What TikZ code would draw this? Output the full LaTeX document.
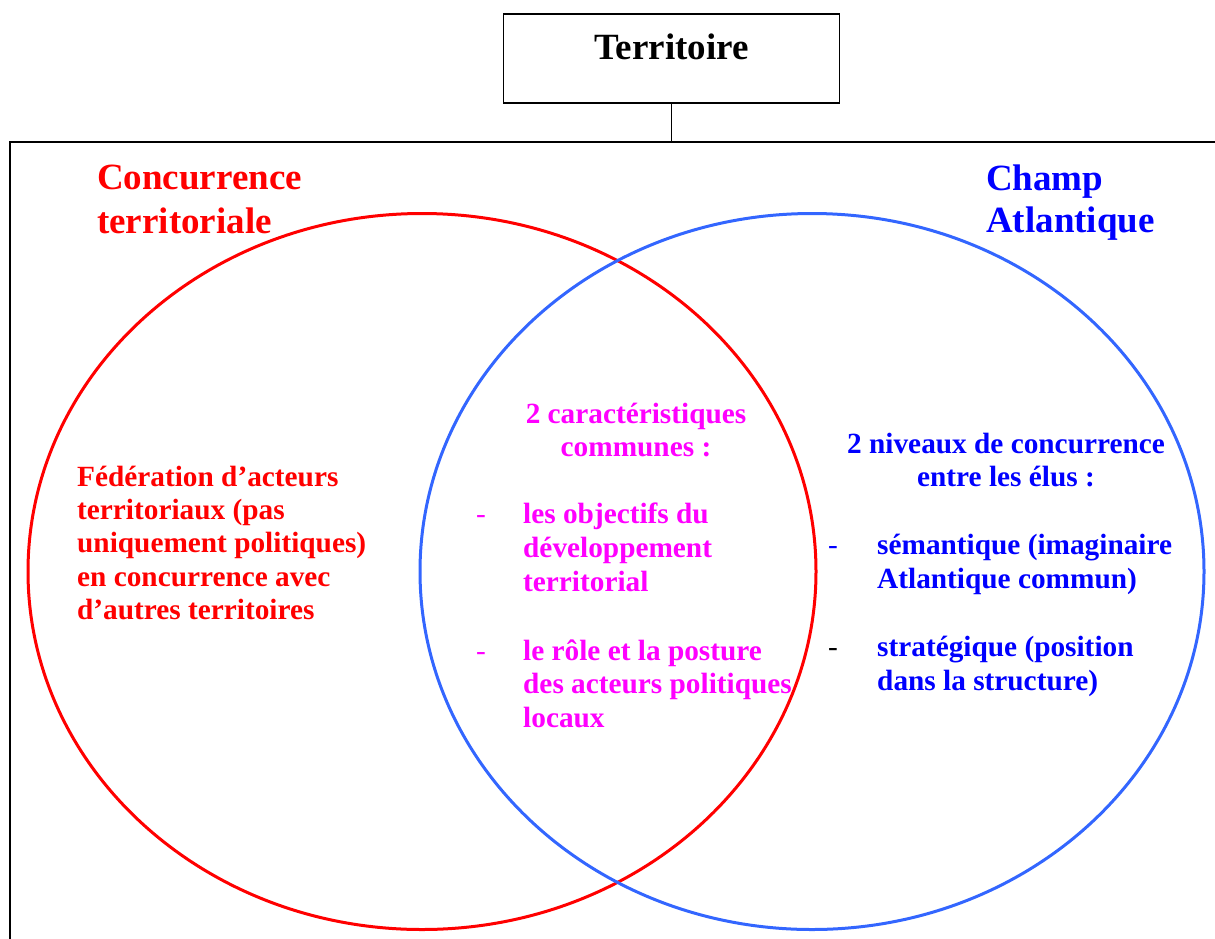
\documentclass[tikz,border=0pt]{standalone}
\usepackage{fontspec}
\setmainfont{Liberation Serif}
\definecolor{cred}{HTML}{FF0000}
\definecolor{cmag}{HTML}{FF00FF}
\definecolor{cblue}{HTML}{0000FF}
\definecolor{cblc}{HTML}{3366FF}
\tikzset{
  ttl/.style={font=\fontsize{37}{43}\selectfont\bfseries, inner sep=0pt},
  bod/.style={font=\fontsize{29.3}{33.7}\selectfont\bfseries, inner sep=0pt},
  dsh/.style={font=\fontsize{29.3}{33.7}\selectfont, inner sep=0pt},
  L/.style={anchor=base west},
  C/.style={anchor=base},
}
\begin{document}
\begin{tikzpicture}[x=1pt,y=-1pt]
\useasboundingbox (0,0) rectangle (1215,938);
% circles
\draw[cred, line width=3pt] (422,571.5) ellipse [x radius=394, y radius=358];
\draw[cblc, line width=3pt] (812,571.5) ellipse [x radius=392, y radius=358];
% frame
\coordinate (fbl) at (10,945);
\coordinate (ftl) at (10,142);
\coordinate (ftr) at (1222,142);
\draw[line width=1.6pt] (fbl) -- (ftl) -- (ftr);
% top box
\node[draw, line width=1.6pt, font=\fontsize{37}{43}\selectfont\bfseries,
  text height=45pt, text depth=44pt, inner ysep=0pt, inner xsep=0pt,
  minimum width=336pt] (terr) at (671.5,58.5) {Territoire};
\coordinate (fj) at (terr.south |- ftl);
\draw[line width=1.6pt] (terr.south) -- (fj);
% titles
\node[ttl, L, text=cred] (t1a) at (97,189) {Concurrence};
\node[ttl, L, text=cred] (t1b) at (97,233) {territoriale};
\node[ttl, L, text=cblue] (t2a) at (986,190) {Champ};
\node[ttl, L, text=cblue] (t2b) at (986,232) {Atlantique};
% red body
\node[bod, L, text=cred] (r1) at (77,486) {Fédération d’acteurs};
\node[bod, L, text=cred] (r2) at (77,519) {territoriaux (pas};
\node[bod, L, text=cred] (r3) at (77,552) {uniquement politiques)};
\node[bod, L, text=cred] (r4) at (77,586) {en concurrence avec};
\node[bod, L, text=cred] (r5) at (77,619) {d’autres territoires};
% magenta
\node[bod, C, text=cmag] (m1) at (636,423) {2 caractéristiques};
\node[bod, C, text=cmag] (m2) at (636,456) {communes :};
\node[dsh, L, text=cmag] (md1) at (476,523) {-};
\node[bod, L, text=cmag] (m3) at (523,523) {les objectifs du};
\node[bod, L, text=cmag] (m4) at (523,557) {développement};
\node[bod, L, text=cmag] (m5) at (523,591) {territorial};
\node[dsh, L, text=cmag] (md2) at (476,660) {-};
\node[bod, L, text=cmag] (m6) at (523,660) {le rôle et la posture};
\node[bod, L, text=cmag] (m7) at (523,693) {des acteurs politiques};
\node[bod, L, text=cmag] (m8) at (523,727) {locaux};
% blue
\node[bod, C, text=cblue] (b1) at (1006,453) {2 niveaux de concurrence};
\node[bod, C, text=cblue] (b2) at (1006,486) {entre les élus :};
\node[dsh, L, text=cblue] (bd1) at (828,554) {-};
\node[bod, L, text=cblue] (b3) at (877,554) {sémantique (imaginaire};
\node[bod, L, text=cblue] (b4) at (877,588) {Atlantique commun)};
\node[dsh, L, text=black] (bd2) at (828,656) {-};
\node[bod, L, text=cblue] (b5) at (877,656) {stratégique (position};
\node[bod, L, text=cblue] (b6) at (877,690) {dans la structure)};
\end{tikzpicture}
\end{document}
